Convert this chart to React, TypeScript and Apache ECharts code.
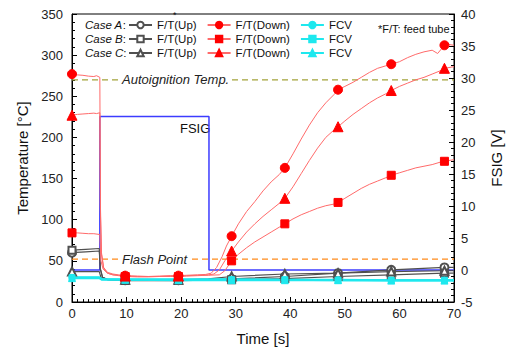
import React, { useEffect, useRef } from "react";
import * as echarts from "echarts";

// ---------- data (time [s], value) ----------
const markerTimes = [0, 9.75, 19.5, 29.25, 39, 48.75, 58.5, 68.25];

const downA: number[][] = [[0,277],[1,276],[2,275.5],[3,274.5],[4,274],[4.5,275],[5.1,273],[5.2,120],[5.4,60],[5.8,42],[6.5,36],[7.5,34],[8.5,33],[9.75,32],[12,31.5],[14,31],[16,31.5],[18,32],[19.5,32],[21,32.5],[23,33],[24.5,33.5],[25.5,35],[26.5,42],[27.5,55],[28.3,68],[29.25,80],[30.5,95],[32,110],[33.5,122],[35,135],[36.5,146],[38,155],[39,163],[40.5,180],[42,198],[43.5,215],[45,230],[46.5,242],[48,252],[48.75,258],[50,262],[51.5,267],[53,273],[54.5,279],[56,284],[57.5,287],[58.5,289],[60,292],[61.5,297],[63,301],[64.5,304],[66,306],[67,302],[68.25,312],[69,313],[70,312]];
const downB: number[][] = [[0,84],[1,84],[2,83.5],[3,83],[4,83],[5.1,82],[5.3,50],[5.7,40],[6.5,35],[7.5,33],[8.5,32],[9.75,31],[12,30.5],[14,30.5],[16,31],[18,31],[19.5,31],[21,31.5],[23,32],[25,32.5],[27,33],[28,38],[29.25,50],[30.5,58],[32,66],[33.5,73],[35,79],[36.5,85],[38,91],[39,95],[40.5,101],[42,106],[43.5,110],[45,114],[46.5,117],[48,119],[48.75,121],[50,126],[51.5,132],[53,138],[54.5,143],[56,147],[57.5,151],[58.5,154],[60,157],[61.5,160],[63,163],[64.5,165],[66,167],[67.5,170],[68.25,171],[70,173]];
const downC: number[][] = [[0,227],[1,228],[2,228.5],[3,229],[4,229.5],[4.5,229],[5.1,230],[5.2,110],[5.4,58],[5.8,41],[6.5,35],[7.5,33],[8.5,32.5],[9.75,31.5],[12,31],[14,31],[16,31],[18,31.5],[19.5,31.5],[21,32],[23,32.5],[25,33],[26,34],[27,39],[28,50],[29.25,62],[30.5,73],[32,85],[33.5,95],[35,104],[36.5,112],[38,120],[39,126],[40.5,140],[42,156],[43.5,172],[45,187],[46.5,200],[48,209],[48.75,213],[50,220],[51.5,228],[53,235],[54.5,242],[56,248],[57.5,253],[58.5,257],[60,262],[61.5,266],[63,270],[64.5,273],[66,277],[67.5,281],[68.25,284],[70,286]];

const upA: number[][] = [[0,60],[2.5,61],[5,62],[5.2,40],[5.6,30],[6.5,27.5],[9.75,26.5],[19.5,26.5],[25,27],[29.25,28],[39,31],[48.75,35],[58.5,39],[68.25,42],[70,42]];
const upB: number[][] = [[0,63],[2.5,64],[5,65],[5.2,40],[5.6,30],[6.5,27],[9.75,26],[19.5,26],[25,26.5],[29.25,27],[39,28.5],[48.75,31],[58.5,33],[68.25,35],[70,35]];
const upC: number[][] = [[0,37],[2.5,37],[5,37],[5.3,30],[6.5,27.5],[9.75,27],[19.5,27],[25,28],[29.25,31],[39,34],[48.75,35],[58.5,37],[68.25,38],[70,38]];

const fcvA: number[][] = [[0,30],[5,30],[5.5,28],[9.75,27.5],[19.5,27.5],[29.25,27.5],[39,27],[48.75,27],[58.5,26.5],[68.25,26.5],[70,26.5]];
const fcvB: number[][] = [[0,29.5],[5,29.5],[5.5,27.5],[9.75,27],[19.5,27],[29.25,27],[39,27],[48.75,26.5],[58.5,26.5],[68.25,26.5],[70,26.5]];
const fcvC: number[][] = [[0,29],[5,29],[5.5,27],[9.75,27],[19.5,26.5],[29.25,26.5],[39,26.5],[48.75,26.5],[58.5,26],[68.25,26],[70,26]];

const fsig: number[][] = [[0,0],[5.1,0],[5.1,24],[25.1,24],[25.1,0],[70,0]];

const autoignitionTemp = 270;
const flashPoint = 52;

const xTicks = { min: 0, max: 70, interval: 10 };
const tempTicks = { min: 0, max: 350, interval: 50 };
const voltTicks = { min: -5, max: 40, interval: 5 };

const FONT = "Arial, 'Liberation Sans', sans-serif";

function withMarkers(points: number[][]) {
  return points.map((p) =>
    markerTimes.includes(p[0]) ? { value: p } : { value: p, symbol: "none" }
  );
}

function curve(name: string, points: number[][], symbol: string, size: number, color: string, lineColor: string, width: number) {
  return {
    name,
    type: "line",
    yAxisIndex: 0,
    data: withMarkers(points),
    symbol,
    symbolSize: size,
    showSymbol: true,
    showAllSymbol: true,
    itemStyle: { color, borderColor: color, borderWidth: 1 },
    lineStyle: { color: lineColor, width },
    emphasis: { disabled: true },
    z: 3,
  };
}

export default function App() {
  const ref = useRef<HTMLDivElement>(null);
  useEffect(() => {
    if (!ref.current) return;
    document.body.style.margin = "0";
    const chart = echarts.init(ref.current, undefined, { renderer: "svg" });
    const red = "#ff0000";
    const redLine = "#ff6a6a";
    const gray = "#505050";
    const cyan = "#1ee8ee";

    const series: any[] = [
      curve("F/T(Up)|A", upA, "emptyCircle", 8, gray, gray, 1.2),
      curve("F/T(Up)|B", upB, "emptyRect", 7, gray, gray, 1.2),
      curve("F/T(Up)|C", upC, "emptyTriangle", 8, gray, gray, 1.2),
      curve("FCV|A", fcvA, "circle", 6, cyan, cyan, 2),
      curve("FCV|B", fcvB, "rect", 6, cyan, cyan, 2),
      curve("FCV|C", fcvC, "triangle", 7, cyan, cyan, 2),
      {
        name: "FSIG",
        type: "line",
        yAxisIndex: 1,
        data: fsig,
        symbol: "none",
        lineStyle: { color: "#3c3cff", width: 1.5 },
        z: 2,
      },
      {
        name: "Autoignition",
        type: "line",
        yAxisIndex: 0,
        data: [[xTicks.min, autoignitionTemp], [xTicks.max, autoignitionTemp]],
        symbol: "none",
        lineStyle: { color: "#a3a33a", width: 1.3, type: [6, 4] },
        z: 1,
      },
      {
        name: "Flash",
        type: "line",
        yAxisIndex: 0,
        data: [[xTicks.min, flashPoint], [xTicks.max, flashPoint]],
        symbol: "none",
        lineStyle: { color: "#ff8a1a", width: 1.3, type: [6, 4] },
        z: 1,
      },
      curve("F/T(Down)|A", downA, "circle", 9, red, redLine, 1),
      curve("F/T(Down)|B", downB, "rect", 8, red, redLine, 1),
      curve("F/T(Down)|C", downC, "triangle", 10, red, redLine, 1),
    ];

    const legendBase = {
      left: 128,
      orient: "horizontal",
      itemWidth: 23,
      itemHeight: 8,
      itemGap: 10,
      selectedMode: false,
      padding: 0,
      textStyle: { fontSize: 11.5, color: "#111", fontFamily: FONT },
      formatter: (n: string) => n.split("|")[0],
    };

    const axisLabel = { color: "#222", fontSize: 13, fontFamily: FONT };
    const axisLine = { show: true, lineStyle: { color: "#000", width: 1 } };

    chart.setOption({
      animation: false,
      textStyle: { fontFamily: FONT },
      grid: { left: 72, right: 45, top: 14, bottom: 45, show: true, borderColor: "#000", borderWidth: 1 },
      legend: [
        { ...legendBase, top: 19, data: ["F/T(Up)|A", "F/T(Down)|A", "FCV|A"] },
        { ...legendBase, top: 33, data: ["F/T(Up)|B", "F/T(Down)|B", "FCV|B"] },
        { ...legendBase, top: 47, data: ["F/T(Up)|C", "F/T(Down)|C", "FCV|C"] },
      ],
      xAxis: {
        type: "value",
        ...xTicks,
        splitLine: { show: false },
        axisLine,
        axisTick: { inside: true, length: 5, lineStyle: { color: "#000" } },
        minorTick: { show: true, splitNumber: 10, length: 3, lineStyle: { color: "#000" } },
        axisLabel: { ...axisLabel, margin: 5 },
        name: "Time [s]",
        nameLocation: "middle",
        nameGap: 29,
        nameTextStyle: { fontSize: 15, color: "#111", fontFamily: FONT },
      },
      yAxis: [
        {
          type: "value",
          ...tempTicks,
          splitLine: { show: false },
          axisLine,
          axisTick: { inside: true, length: 5, lineStyle: { color: "#000" } },
          minorTick: { show: true, splitNumber: 5, length: 3, lineStyle: { color: "#000" } },
          axisLabel: { ...axisLabel, margin: 9 },
          name: "Temperature [°C]",
          nameLocation: "middle",
          nameGap: 32,
          nameRotate: 90,
          nameTextStyle: { fontSize: 15, color: "#111", fontFamily: FONT },
        },
        {
          type: "value",
          position: "right",
          ...voltTicks,
          splitLine: { show: false },
          axisLine,
          axisTick: { inside: true, length: 5, lineStyle: { color: "#000" } },
          minorTick: { show: true, splitNumber: 5, length: 3, lineStyle: { color: "#000" } },
          axisLabel: { ...axisLabel, margin: 7 },
          name: "FSIG [V]",
          nameLocation: "middle",
          nameGap: 35,
          nameRotate: 90,
          nameTextStyle: { fontSize: 15, color: "#111", fontFamily: FONT },
        },
      ],
      series,
    });

    const ai = chart.convertToPixel({ xAxisIndex: 0, yAxisIndex: 0 }, [8.8, autoignitionTemp]) as number[];
    const fp = chart.convertToPixel({ xAxisIndex: 0, yAxisIndex: 0 }, [8.8, flashPoint]) as number[];
    const caseText = (label: string, y: number) => ({
      type: "text",
      left: 85,
      top: y,
      style: {
        text: `{i|${label}}:`,
        fontSize: 11.5,
        fill: "#111",
        fontFamily: FONT,
        rich: { i: { fontStyle: "italic", fontSize: 11.5, fontFamily: FONT, fill: "#111" } },
      },
    });

    chart.setOption({
      graphic: [
        caseText("Case A", 19),
        caseText("Case B", 33),
        caseText("Case C", 47),
        { type: "text", left: 173, top: 10, style: { text: "*", fontSize: 9, fill: "#111", fontFamily: FONT } },
        { type: "text", left: 378, top: 23, style: { text: "*F/T: feed tube", fontSize: 11, fill: "#111", fontFamily: FONT } },
        { type: "text", left: 180, top: 122, style: { text: "FSIG", fontSize: 13, fill: "#111", fontFamily: FONT } },
        {
          type: "text",
          x: ai[0],
          y: ai[1],
          z: 10,
          style: {
            text: "Autoignition Temp.",
            fontSize: 13,
            fontStyle: "italic",
            fill: "#222",
            fontFamily: FONT,
            verticalAlign: "middle",
            backgroundColor: "#fff",
            padding: [0, 2],
          },
        },
        {
          type: "text",
          x: fp[0],
          y: fp[1],
          z: 10,
          style: {
            text: "Flash Point",
            fontSize: 13,
            fontStyle: "italic",
            fill: "#222",
            fontFamily: FONT,
            verticalAlign: "middle",
            backgroundColor: "#fff",
            padding: [0, 2],
          },
        },
      ],
    });

    return () => chart.dispose();
  }, []);
  return <div ref={ref} style={{ width: 512, height: 351, position: "absolute", left: 0, top: 0 }} />;
}
